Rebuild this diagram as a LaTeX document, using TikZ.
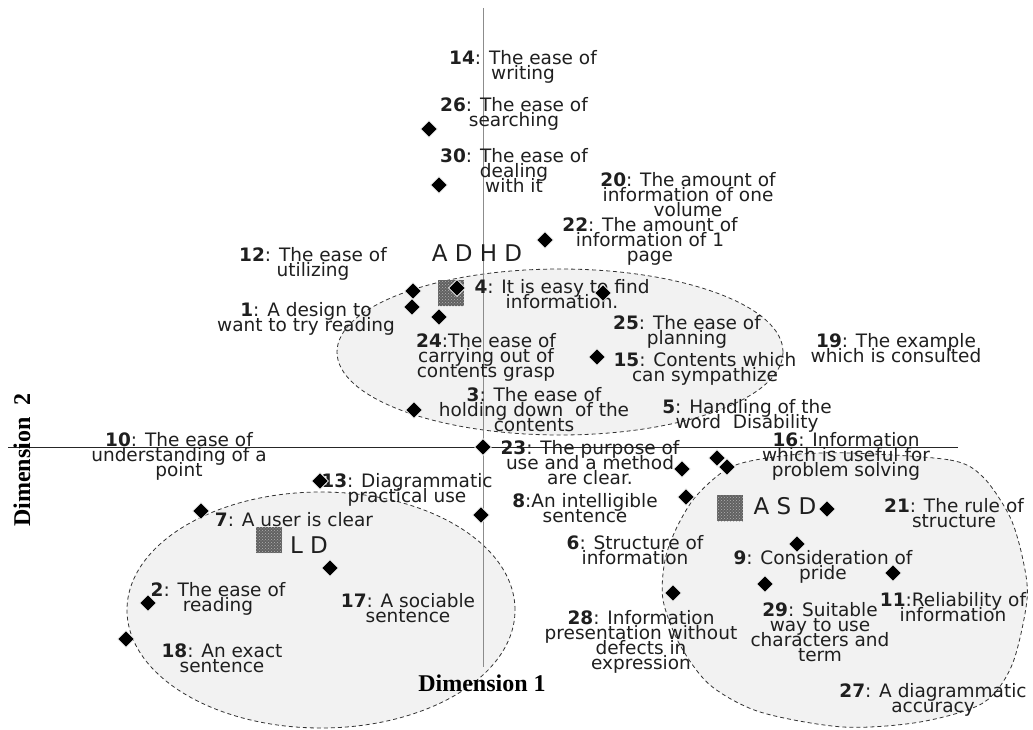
\documentclass[tikz,border=0pt]{standalone}
\usepackage{fontspec}
\setmainfont{DejaVu Sans}
\newfontfamily\labfont{DejaVu Sans}
\newfontfamily\dimfont{Liberation Serif}
\usetikzlibrary{shapes.geometric,patterns}
\newcommand\mytightlines{\lineskiplimit=-100pt\relax\lineskip=0pt\relax}
\tikzset{
  lab/.style={anchor=north, inner sep=0pt, outer sep=0pt, align=center, text=black!88,
    font=\labfont\fontsize{18.5}{15}\selectfont, execute at begin node=\mytightlines},
  grplab/.style={anchor=north, inner sep=0pt, text=black!88, font=\labfont\fontsize{23}{26}\selectfont},
  mk/.style={diamond, fill=black, draw=white, line width=0.6pt, minimum width=17pt, minimum height=17pt, inner sep=0pt},
  grpsq/.style={rectangle, minimum size=26pt, inner sep=0pt, preaction={fill=black!62}, pattern=crosshatch dots, pattern color=black!30},
  cluster/.style={fill=black!5, draw=black!80, dash pattern=on 4pt off 3pt, line width=0.8pt},
  axisline/.style={line width=0.9pt},
  dimlab/.style={inner sep=0pt, font=\dimfont\bfseries\fontsize{24}{26}\selectfont}
}
\begin{document}
\begin{tikzpicture}[x=1pt,y=-1pt]
\useasboundingbox (0,0) rectangle (1033,730);
\fill[white] (0,0) rectangle (1033,730);
% clusters
\draw[cluster] (560,352) ellipse [x radius=223pt, y radius=83pt];
\draw[cluster] (321,610) ellipse [x radius=194pt, y radius=118pt];
\draw[cluster] plot[smooth cycle] coordinates {(850,453) (950,460) (983,477) (1010,517) (1023,560) (1027,600) (1012,665) (983,703) (920,722) (843,727) (760,712) (710,685) (680,645) (663,600) (665,560) (677,527) (697,495) (733,466) (790,455)};
% axes
\coordinate (hL) at (8,447);
\coordinate (hR) at (958,447);
\coordinate (vT) at (483,8);
\coordinate (vB) at (483,667);
\draw[axisline, black!85] (hL) -- (hR);
\draw[axisline, black!45] (vT) -- (vB);
% axis titles
\node[dimlab, anchor=north] (dim1) at (482,675) {Dimension 1};
\node[dimlab, rotate=90] (dim2) at (22,460) {Dimension\ \ 2};
% labels
\node[lab] (l14) at (523,50) {\textbf{14}: The ease of\\writing};
\node[lab] (l26) at (514,97) {\textbf{26}: The ease of\\searching};
\node[lab] (l30) at (514,148) {\textbf{30}: The ease of\\dealing\\with it};
\node[lab] (l20) at (688,172) {\textbf{20}: The amount of\\information of one\\volume};
\node[lab] (l22) at (650,217) {\textbf{22}: The amount of\\information of 1\\page};
\node[lab] (l12) at (313,247) {\textbf{12}: The ease of\\utilizing};
\node[lab] (l4) at (562,279) {\textbf{4}: It is easy to find\\information.};
\node[lab] (l1) at (306,302) {\textbf{1}: A design to\\want to try reading};
\node[lab] (l24) at (486,333) {\textbf{24}:The ease of\\carrying out of\\contents grasp};
\node[lab] (l25) at (687,315) {\textbf{25}: The ease of\\planning};
\node[lab] (l15) at (705,352) {\textbf{15}: Contents which\\can sympathize};
\node[lab] (l19) at (896,333) {\textbf{19}: The example\\which is consulted};
\node[lab] (l3) at (534,387) {\textbf{3}: The ease of\\holding down\ \ of the\\contents};
\node[lab] (l5) at (747,399) {\textbf{5}: Handling of the\\word\ \ Disability};
\node[lab] (l16) at (846,432) {\textbf{16}: Information\\which is useful for\\problem solving};
\node[lab] (l10) at (179,432) {\textbf{10}: The ease of\\understanding of a\\point};
\node[lab] (l23) at (590,440) {\textbf{23}: The purpose of\\use and a method\\are clear.};
\node[lab] (l13) at (407,473) {\textbf{13}: Diagrammatic\\practical use};
\node[lab] (l8) at (585,493) {\textbf{8}:An intelligible\\sentence};
\node[lab] (l7) at (294,512) {\textbf{7}: A user is clear};
\node[lab] (l6) at (635,535) {\textbf{6}: Structure of\\information};
\node[lab] (l21) at (954,498) {\textbf{21}: The rule of\\structure};
\node[lab] (l9) at (823,550) {\textbf{9}: Consideration of\\pride};
\node[lab] (l11) at (953,592) {\textbf{11}:Reliability of\\information};
\node[lab] (l2) at (218,582) {\textbf{2}: The ease of\\reading};
\node[lab] (l17) at (408,593) {\textbf{17}: A sociable\\sentence};
\node[lab] (l29) at (820,602) {\textbf{29}: Suitable\\way to use\\characters and\\term};
\node[lab] (l28) at (641,610) {\textbf{28}: Information\\presentation without\\defects in\\expression};
\node[lab] (l18) at (222,644) {\textbf{18}: An exact\\sentence};
\node[lab] (l27) at (933,683) {\textbf{27}: A diagrammatic\\accuracy};
% group labels
\node[grplab] (gADHD) at (477,245) {A D H D};
\node[grplab] (gASD) at (785,497) {A S D};
\node[grplab] (gLD) at (309,537) {L D};
% group squares
\node[grpsq] (sADHD) at (451,293) {};
\node[grpsq] (sASD) at (730,508) {};
\node[grpsq] (sLD) at (269,540) {};
% markers
\node[mk] (m26) at (429,129) {};
\node[mk] (m30) at (439,185) {};
\node[mk] (m22) at (545,240) {};
\node[mk] (m12) at (413,291) {};
\node[mk] (m1) at (412,307) {};
\node[mk] (m24) at (439,317) {};
\node[mk] (mA) at (457,288) {};
\node[mk] (m4) at (603,293) {};
\node[mk] (m15) at (597,357) {};
\node[mk] (m3) at (414,410) {};
\node[mk] (m23) at (483,447) {};
\node[mk] (m13) at (320,481) {};
\node[mk] (m7) at (201,511) {};
\node[mk] (mX) at (481,515) {};
\node[mk] (m23b) at (682,469) {};
\node[mk] (m8) at (686,497) {};
\node[mk] (m16a) at (717,458) {};
\node[mk] (m16b) at (727,467) {};
\node[mk] (mASD) at (827,509) {};
\node[mk] (m9) at (797,544) {};
\node[mk] (m11) at (893,573) {};
\node[mk] (m29) at (765,584) {};
\node[mk] (m28) at (673,593) {};
\node[mk] (m17) at (330,568) {};
\node[mk] (m2) at (148,603) {};
\node[mk] (m18) at (126,639) {};
\end{tikzpicture}
\end{document}
